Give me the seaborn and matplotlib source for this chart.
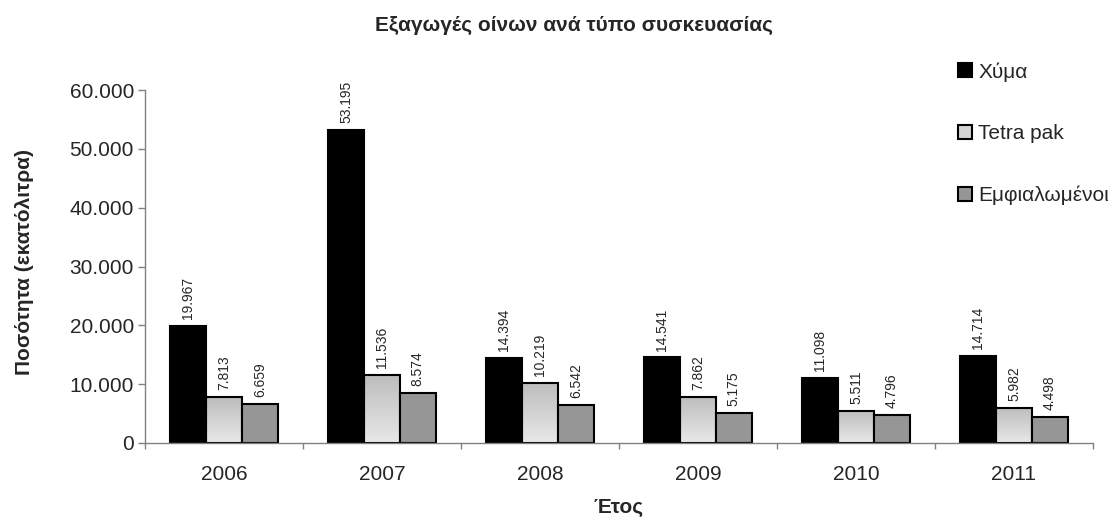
import numpy as np
import pandas as pd
import matplotlib
matplotlib.use("Agg")
import matplotlib.pyplot as plt
import seaborn as sns
from matplotlib.patches import Patch
from matplotlib.colors import LinearSegmentedColormap
from matplotlib.ticker import FuncFormatter, FixedLocator

# data (hectolitres)
years = ["2006", "2007", "2008", "2009", "2010", "2011"]
types = ["Χύμα", "Tetra pak", "Εμφιαλωμένοι"]
bulk = [19967, 53195, 14394, 14541, 11098, 14714]
tetra = [7813, 11536, 10219, 7862, 5511, 5982]
bottled = [6659, 8574, 6542, 5175, 4796, 4498]

colors = ["#000000", "#d4d4d4", "#969696"]

sns.set_style("white")
plt.rcParams["font.family"] = ["Liberation Sans", "DejaVu Sans"]

df = pd.DataFrame({
    "year": years * 3,
    "type": [types[0]] * 6 + [types[1]] * 6 + [types[2]] * 6,
    "value": bulk + tetra + bottled,
})

fig = plt.figure(figsize=(11.16, 5.23), dpi=100)
ax = fig.add_axes([145 / 1116, 1 - 443 / 523, (1093 - 145) / 1116, (443 - 90) / 523])

sns.barplot(data=df, x="year", y="value", hue="type", hue_order=types,
            palette=colors, edgecolor="black", linewidth=1.5, width=0.68,
            errorbar=None, saturation=1, legend=False, ax=ax)

# gradient fill for the Tetra pak bars
grad_cmap = LinearSegmentedColormap.from_list("tp", ["#e8e8e8", "#bdbdbd"])
grad = np.linspace(0, 1, 100).reshape(-1, 1)
for p in ax.containers[1]:
    x0, y0 = p.get_x(), p.get_y()
    w, h = p.get_width(), p.get_height()
    im = ax.imshow(grad, extent=[x0, x0 + w, y0, y0 + h], origin="lower",
                   aspect="auto", cmap=grad_cmap, zorder=p.get_zorder() - 0.1)
    im.set_clip_path(p)
    p.set_facecolor("none")

# value labels
def fmt(v):
    return f"{int(v):,}".replace(",", ".")

for cont, vals in zip(ax.containers, [bulk, tetra, bottled]):
    ax.bar_label(cont, labels=[fmt(v) for v in vals], rotation=90,
                 padding=5, fontsize=10)

ax.set_xlim(-0.5, 5.5)
ax.set_ylim(0, 60000)
ax.set_yticks(np.arange(0, 60001, 10000))
ax.yaxis.set_major_formatter(FuncFormatter(lambda v, _: fmt(v)))
ax.xaxis.set_minor_locator(FixedLocator(np.arange(-0.5, 6, 1)))

for s in ["top", "right"]:
    ax.spines[s].set_visible(False)
for s in ["left", "bottom"]:
    ax.spines[s].set_color("#808080")
    ax.spines[s].set_linewidth(1)

ax.tick_params(axis="y", length=5, width=1, color="#808080", pad=3, labelsize=15, left=True)
ax.tick_params(axis="x", which="major", length=0, pad=16, labelsize=15)
ax.tick_params(axis="x", which="minor", length=4.5, width=1, color="#808080", bottom=True)

ax.set_xlabel("Έτος", fontsize=15, fontweight="bold", labelpad=10)
ax.set_ylabel("")
fig.text(25 / 1116, 1 - 262 / 523, "Ποσότητα (εκατόλιτρα)", rotation=90,
         ha="center", va="center", fontsize=15, fontweight="bold")

fig.text(574 / 1116, 1 - 25 / 523, "Εξαγωγές οίνων ανά τύπο συσκευασίας",
         ha="center", va="center", fontsize=15, fontweight="bold")

handles = [Patch(facecolor=c, edgecolor="black", linewidth=1.5) for c in colors]
fig.legend(handles, types, loc="upper left", bbox_to_anchor=(958 / 1116, 1 - 62 / 523),
           frameon=False, fontsize=15, borderpad=0, borderaxespad=0,
           handlelength=0.67, handleheight=0.67, handletextpad=0.3, labelspacing=2.05)

fig.savefig("out.png", dpi=100)
